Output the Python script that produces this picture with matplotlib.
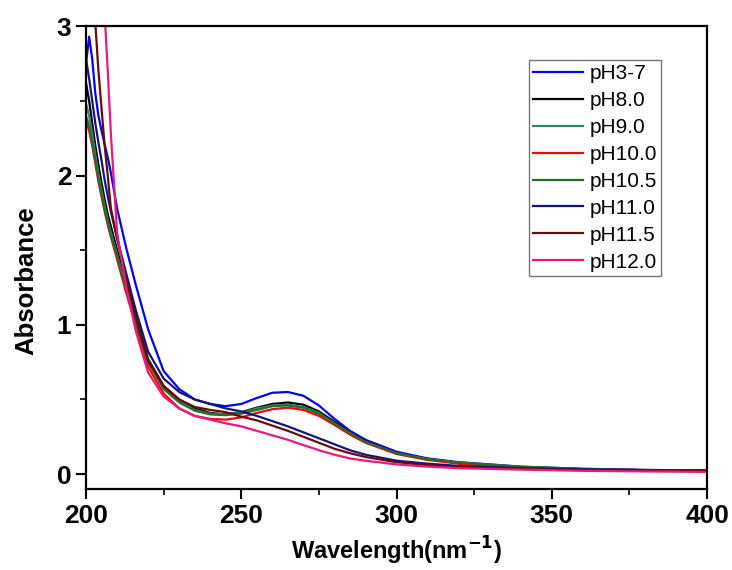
import matplotlib
matplotlib.use('Agg')
import matplotlib.pyplot as plt
import matplotlib.ticker as mticker

wl = [200, 201, 202, 203, 204, 205, 206, 207, 208, 210, 213, 216, 220, 225, 230, 235, 240, 245,
      250, 255, 260, 265, 270, 275, 280, 285, 290, 300, 310, 320, 340, 360, 380, 400]

ph3_7 = [2.75, 2.93, 2.78, 2.55, 2.40, 2.30, 2.21, 2.12, 2.02, 1.78, 1.51, 1.27, 0.97, 0.69, 0.57, 0.50, 0.47, 0.455,
         0.47, 0.51, 0.545, 0.55, 0.525, 0.46, 0.37, 0.29, 0.23, 0.15, 0.105, 0.08, 0.05, 0.035, 0.028, 0.025]
ph8_0 = [2.62, 2.50, 2.35, 2.20, 2.07, 1.95, 1.84, 1.74, 1.66, 1.50, 1.27, 1.06, 0.77, 0.59, 0.50, 0.44, 0.41, 0.40,
         0.415, 0.445, 0.47, 0.48, 0.465, 0.42, 0.35, 0.28, 0.22, 0.14, 0.10, 0.075, 0.047, 0.033, 0.026, 0.022]
ph9_0 = [2.48, 2.40, 2.28, 2.14, 2.01, 1.90, 1.80, 1.70, 1.62, 1.47, 1.24, 1.03, 0.76, 0.58, 0.49, 0.43, 0.405, 0.40,
         0.41, 0.44, 0.46, 0.465, 0.45, 0.41, 0.34, 0.275, 0.215, 0.14, 0.10, 0.075, 0.047, 0.033, 0.026, 0.022]
ph10_0 = [2.36, 2.30, 2.20, 2.08, 1.96, 1.86, 1.76, 1.67, 1.59, 1.44, 1.21, 1.00, 0.72, 0.54, 0.44, 0.39, 0.37, 0.365,
          0.38, 0.41, 0.435, 0.445, 0.43, 0.39, 0.33, 0.265, 0.21, 0.135, 0.095, 0.07, 0.045, 0.032, 0.025, 0.02]
ph10_5 = [2.40, 2.33, 2.22, 2.10, 1.98, 1.87, 1.77, 1.68, 1.60, 1.46, 1.23, 1.02, 0.75, 0.57, 0.48, 0.425, 0.40, 0.395,
          0.405, 0.43, 0.455, 0.46, 0.445, 0.405, 0.34, 0.275, 0.215, 0.14, 0.10, 0.078, 0.05, 0.036, 0.028, 0.024]
ph11_0 = [2.78, 2.65, 2.50, 2.35, 2.22, 2.10, 1.97, 1.86, 1.76, 1.58, 1.34, 1.10, 0.82, 0.64, 0.55, 0.50, 0.47, 0.44,
          0.42, 0.39, 0.355, 0.32, 0.28, 0.24, 0.20, 0.16, 0.13, 0.09, 0.07, 0.055, 0.04, 0.032, 0.027, 0.025]
ph11_5 = [3.6, 3.4, 3.2, 3.02, 2.7, 2.45, 2.2, 2.0, 1.78, 1.58, 1.30, 1.05, 0.76, 0.59, 0.50, 0.45, 0.43, 0.415,
          0.385, 0.36, 0.325, 0.29, 0.25, 0.21, 0.17, 0.14, 0.115, 0.08, 0.06, 0.048, 0.035, 0.028, 0.024, 0.022]
ph12_0 = [4.8, 4.5, 4.2, 3.9, 3.62, 3.35, 3.08, 2.7, 2.28, 1.62, 1.25, 0.96, 0.68, 0.52, 0.44, 0.39, 0.365, 0.34,
          0.32, 0.29, 0.26, 0.23, 0.195, 0.16, 0.13, 0.105, 0.09, 0.065, 0.05, 0.04, 0.03, 0.022, 0.018, 0.015]

series = [ph3_7, ph8_0, ph9_0, ph10_0, ph10_5, ph11_0, ph11_5, ph12_0]
labels = ['pH3-7', 'pH8.0', 'pH9.0', 'pH10.0', 'pH10.5', 'pH11.0', 'pH11.5', 'pH12.0']
colors = ['#0000ff', '#000000', '#2e8470', '#ff0000', '#2a6a2a', '#14147f', '#6b0a0a', '#e8197f']

plt.rcParams['font.family'] = ['Liberation Sans', 'DejaVu Sans']

fig = plt.figure(figsize=(7.32, 5.70), dpi=100)
ax = fig.add_axes([0.1175, 0.142, 0.8485, 0.812])

for y, lab, c in zip(series, labels, colors):
    ax.plot(wl, y, color=c, lw=1.6, label=lab)

ax.set_xlim(200, 400)
ax.set_ylim(-0.1, 3)
ax.xaxis.set_major_locator(mticker.MultipleLocator(50))
ax.xaxis.set_minor_locator(mticker.MultipleLocator(25))
ax.yaxis.set_major_locator(mticker.MultipleLocator(1))
ax.yaxis.set_minor_locator(mticker.MultipleLocator(0.5))
ax.tick_params(which='major', direction='out', length=7, width=1.5, top=False, right=False)
ax.tick_params(which='minor', direction='out', length=4, width=1.2, top=False, right=False)
for sp in ax.spines.values():
    sp.set_linewidth(1.6)

for t in ax.get_xticklabels() + ax.get_yticklabels():
    t.set_fontweight('bold')
    t.set_fontsize(19)

ax.set_xlabel(r'Wavelength(nm$^{\mathbf{-1}}$)', fontsize=17, fontweight='bold', labelpad=5)
ax.set_ylabel('Absorbance', fontsize=18.5, fontweight='bold')
ax.yaxis.set_label_coords(-0.077, 0.45)

leg = ax.legend(loc='upper left', bbox_to_anchor=(0.713, 0.927), fontsize=15,
                handlelength=2.4, handletextpad=0.3, labelspacing=0.38,
                borderpad=0.2, borderaxespad=0, fancybox=False, framealpha=1)
leg.get_frame().set_edgecolor('#777777')
leg.get_frame().set_linewidth(1.0)

fig.savefig('out.png', dpi=100)
